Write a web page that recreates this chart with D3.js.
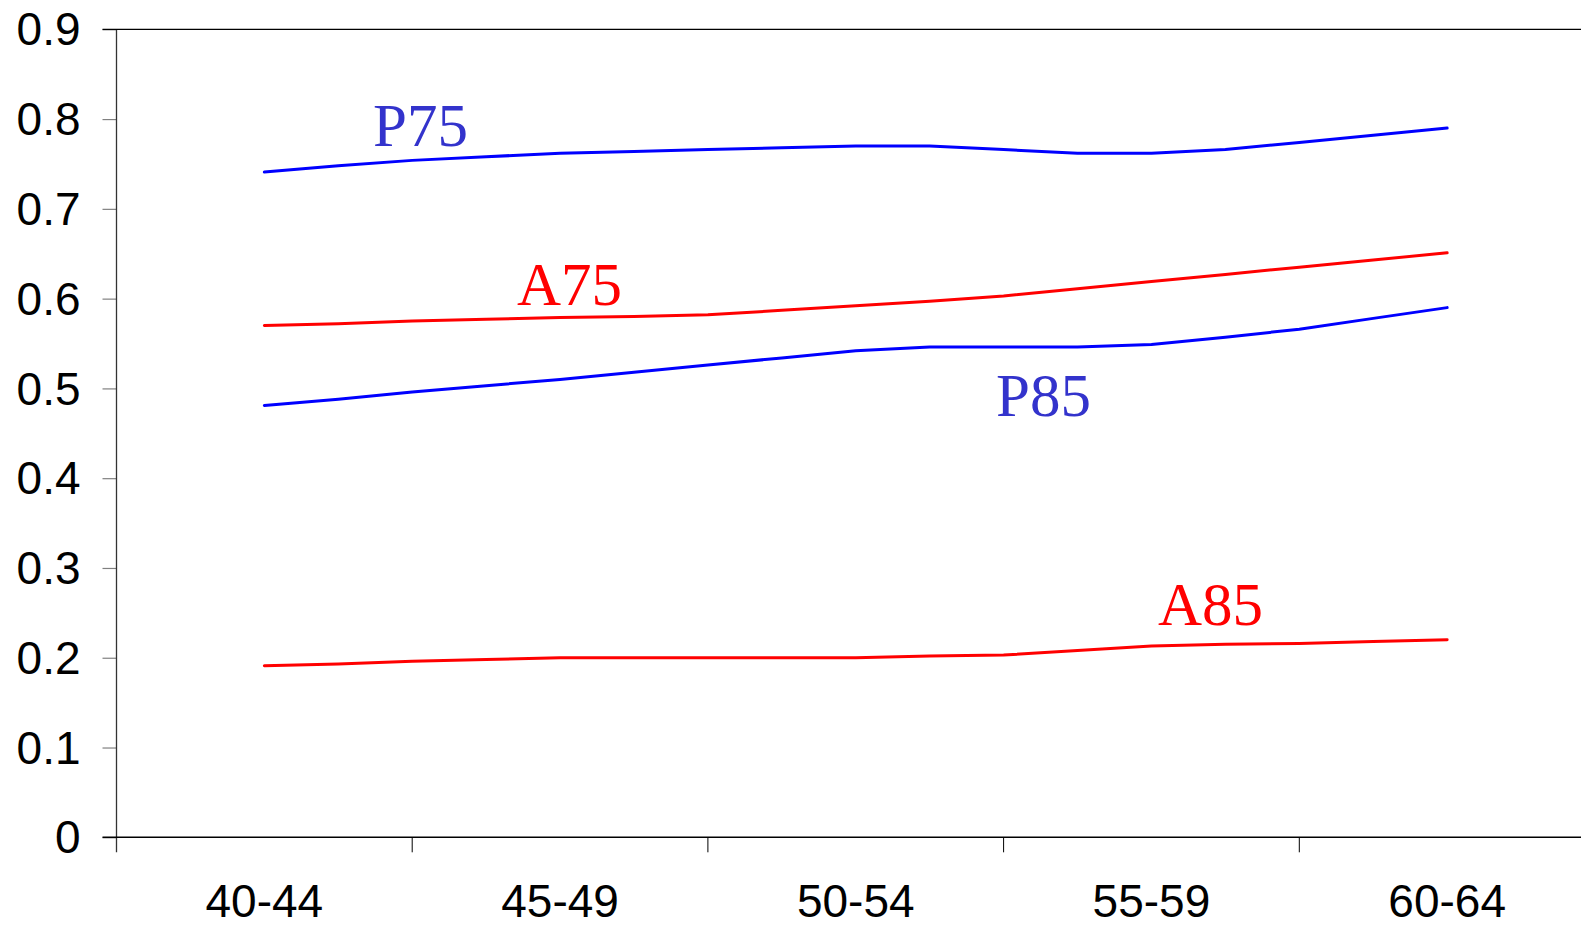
<!DOCTYPE html>
<html>
<head>
<meta charset="utf-8">
<script src="https://cdn.jsdelivr.net/npm/d3@7"></script>
<style>
  html, body { margin: 0; padding: 0; background: #fff; }
  svg { display: block; }
</style>
</head>
<body>
<script>
// Age groups shown on the horizontal axis
const ageGroups = ["40-44", "45-49", "50-54", "55-59", "60-64"];

// Each series is sampled at quarter steps across the age groups (17 samples,
// first one at the centre of 40-44, last at the centre of 60-64)
const sampleIndex = [0, 1, 2, 3, 4, 5, 6, 7, 8, 9, 10, 11, 12, 13, 14, 15, 16];

const p75 = [0.741, 0.748, 0.754, 0.758, 0.762, 0.764, 0.766, 0.768, 0.770, 0.770, 0.766, 0.762, 0.762, 0.766, 0.774, 0.782, 0.790];
const a75 = [0.570, 0.572, 0.575, 0.577, 0.579, 0.580, 0.582, 0.587, 0.592, 0.597, 0.603, 0.611, 0.619, 0.627, 0.635, 0.643, 0.651];
const p85 = [0.481, 0.488, 0.496, 0.503, 0.510, 0.518, 0.526, 0.534, 0.542, 0.546, 0.546, 0.546, 0.549, 0.557, 0.566, 0.578, 0.590];
const a85 = [0.191, 0.193, 0.196, 0.198, 0.200, 0.200, 0.200, 0.200, 0.200, 0.202, 0.203, 0.208, 0.213, 0.215, 0.216, 0.218, 0.220];

const yTicks = [0, 0.1, 0.2, 0.3, 0.4, 0.5, 0.6, 0.7, 0.8, 0.9];

const series = [
  { name: "P75", values: p75, color: "#0000ff", labelColor: "#3333cc", labelX: 373, labelY: 146 },
  { name: "A75", values: a75, color: "#ff0000", labelColor: "#ff0000", labelX: 517, labelY: 305 },
  { name: "P85", values: p85, color: "#0000ff", labelColor: "#3333cc", labelX: 996, labelY: 416 },
  { name: "A85", values: a85, color: "#ff0000", labelColor: "#ff0000", labelX: 1158, labelY: 625 }
];

const W = 1581, H = 928;
const plotLeft = 116.5, plotRight = 1595, plotTop = 29.3, plotBottom = 837.3;

const svg = d3.select("body").append("svg")
  .attr("width", W).attr("height", H)
  .attr("viewBox", `0 0 ${W} ${H}`);

const xBand = d3.scaleBand().domain(ageGroups).range([plotLeft, plotRight]).padding(0);
// quarter-step sample positions: sample 0 sits at the centre of the first band
const xSample = d3.scaleLinear().domain([-2, 18]).range([plotLeft, plotRight]);
const y = d3.scaleLinear().domain([0, 0.9]).range([plotBottom, plotTop]);

const sansFont = "'Liberation Sans', Arial, sans-serif";
const serifFont = "'Liberation Serif', 'Times New Roman', serif";

// Y axis
const yAxis = svg.append("g")
  .attr("transform", `translate(${plotLeft},0)`)
  .call(d3.axisLeft(y).tickValues(yTicks).tickSize(14).tickPadding(22)
    .tickFormat(d => d === 0 ? "0" : d3.format(".1f")(d)));
yAxis.select(".domain").remove();
yAxis.selectAll(".tick line").attr("stroke", "#808080").attr("stroke-width", 1.2);
yAxis.selectAll(".tick text")
  .attr("font-family", sansFont).attr("font-size", 46).attr("fill", "#000")
  .attr("dy", "0.34em");

// vertical axis line, running slightly below the baseline
svg.append("line")
  .attr("x1", plotLeft).attr("x2", plotLeft)
  .attr("y1", plotTop).attr("y2", plotBottom + 15)
  .attr("stroke", "#333").attr("stroke-width", 1.3);

// top frame line
svg.append("line")
  .attr("x1", plotLeft - 14).attr("x2", W)
  .attr("y1", plotTop).attr("y2", plotTop)
  .attr("stroke", "#000").attr("stroke-width", 1.3);

// X axis baseline
svg.append("line")
  .attr("x1", plotLeft - 14).attr("x2", W)
  .attr("y1", plotBottom).attr("y2", plotBottom)
  .attr("stroke", "#000").attr("stroke-width", 1.4);

// X tick marks at band boundaries
svg.append("g").selectAll("line")
  .data(ageGroups.slice(1))
  .join("line")
  .attr("x1", d => xBand(d)).attr("x2", d => xBand(d))
  .attr("y1", plotBottom).attr("y2", plotBottom + 15)
  .attr("stroke", "#000").attr("stroke-width", 1);

// X labels at band centres
svg.append("g").selectAll("text")
  .data(ageGroups)
  .join("text")
  .attr("x", d => xBand(d) + xBand.bandwidth() / 2)
  .attr("y", 917)
  .attr("text-anchor", "middle")
  .attr("font-family", sansFont).attr("font-size", 46)
  .attr("fill", "#000")
  .text(d => d);

// Series lines
const line = d3.line()
  .x((d, i) => xSample(sampleIndex[i]))
  .y(d => y(d));

svg.append("g").selectAll("path")
  .data(series)
  .join("path")
  .attr("d", d => line(d.values))
  .attr("fill", "none")
  .attr("stroke", d => d.color)
  .attr("stroke-width", 3)
  .attr("stroke-linejoin", "round")
  .attr("stroke-linecap", "round");

// Series labels
svg.append("g").selectAll("text")
  .data(series)
  .join("text")
  .attr("x", d => d.labelX)
  .attr("y", d => d.labelY)
  .attr("font-family", serifFont)
  .attr("font-size", 61)
  .attr("fill", d => d.labelColor)
  .text(d => d.name);
</script>
</body>
</html>
